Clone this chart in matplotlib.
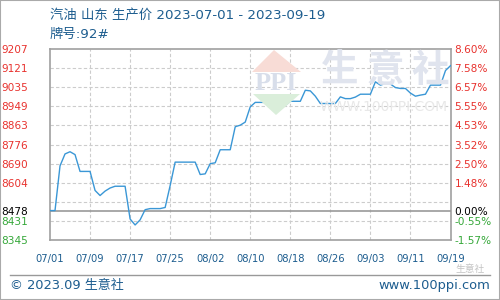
import matplotlib
matplotlib.use("Agg")
import matplotlib.pyplot as plt
from matplotlib.patches import Polygon, Rectangle
from matplotlib.lines import Line2D

plt.rcParams['font.family'] = ['DejaVu Sans', 'Noto Sans CJK SC']

# ---- data (daily, 07/01 -> 09/19)
DAYS = list(range(81))
PRICES = [8478, 8478, 8680, 8734, 8744, 8731, 8655, 8655, 8655, 8569,
          8546, 8566, 8580, 8588, 8588, 8588, 8440, 8413, 8436, 8482,
          8487, 8487, 8487, 8492, 8591, 8697, 8697, 8697, 8697, 8697,
          8641, 8644, 8690, 8694, 8753, 8753, 8753, 8857, 8864, 8878,
          8947, 8967, 8967, 8967, 8967, 8979, 8974, 8954, 8972, 8972,
          8972, 9022, 9019, 8995, 8962, 8962, 8962, 8962, 8992, 8984,
          8984, 8991, 9004, 9004, 9004, 9060, 9045, 9052, 9050, 9034,
          9030, 9030, 9009, 8995, 9000, 9004, 9045, 9045, 9045, 9111,
          9133]
BASE = 8478
X_TICKS = [0, 8, 16, 24, 32, 40, 48, 56, 64, 72, 80]
X_LABELS = ["07/01", "07/09", "07/17", "07/25", "08/02", "08/10",
            "08/18", "08/26", "09/03", "09/11", "09/19"]
Y_TICKS = [8345, 8431, 8518, 8604, 8690, 8776, 8863, 8949, 9035, 9121, 9207]
Y_LABELS = ["8345", "8431", "", "8604", "8690", "8776", "8863", "8949",
            "9035", "9121", "9207"]
PCT_LABELS = ["-1.57%", "-0.55%", "", "1.48%", "2.50%", "3.52%", "4.53%",
              "5.55%", "6.57%", "7.58%", "8.60%"]

TITLE = "汽油 山东 生产价 2023-07-01 - 2023-09-19"
SUBTITLE = "牌号:92#"

BLUE = "#1d5d8f"
RED = "#e8322e"
GREEN = "#36a83a"
LINE = "#3a97d6"

W, H = 500, 300
fig = plt.figure(figsize=(5, 3), dpi=100)
ax = fig.add_axes([50 / W, 1 - 240 / H, 400.5 / W, (240 - 49.3) / H])

# watermark (logo + text), pixel coords from top-left
def px(x, y):
    return (x / W, 1 - y / H)

fig.patches.append(Polygon([px(252, 72), px(274, 50), px(301, 72)],
                           closed=True, transform=fig.transFigure,
                           facecolor="#f8dcd6", edgecolor="none", zorder=0))
fig.patches.append(Polygon([px(253, 94), px(300, 94), px(276, 115)],
                           closed=True, transform=fig.transFigure,
                           facecolor="#daeeda", edgecolor="none", zorder=0))
fig.text(276 / W, 1 - 84 / H, "PPI", fontsize=19, fontweight="bold",
         color="#d8deea", ha="center", va="center", family="Liberation Serif")
for cx, ch in zip([340, 385, 430], "生意社"):
    fig.text(cx / W, 1 - 70 / H, ch, fontsize=27, fontweight="bold",
             color="#e0e4ee", ha="center", va="center",
             family=["Noto Sans CJK SC"])
fig.text(384 / W, 1 - 107 / H, "WWW.100PPI.COM", fontsize=10,
         color="#e8e8e8", ha="center", va="center")

ax.set_facecolor("none")
ax.plot(DAYS, PRICES, color=LINE, lw=1.0, zorder=4)
ax.axhline(BASE, color="#999999", lw=1.2, zorder=3)

for v in Y_TICKS[1:-1]:
    ax.axhline(v, color="#cccccc", lw=0.8, ls=(0, (3, 2)), zorder=1)
for d in X_TICKS[1:-1]:
    ax.axvline(d, color="#cccccc", lw=0.8, ls=(0, (3, 2)), zorder=1)

ax.set_xlim(0, 80)
ax.set_ylim(Y_TICKS[0], Y_TICKS[-1])
for s in ax.spines.values():
    s.set_color("#a0a0a0")
    s.set_linewidth(1.2)

ax.set_xticks(X_TICKS)
ax.set_xticklabels(X_LABELS, fontsize=7.2, color=BLUE)
ax.tick_params(axis="x", length=0, pad=10)

ax.set_yticks(Y_TICKS + [BASE])
ax.set_yticklabels(Y_LABELS + [str(BASE)], fontsize=7.6)
ax.tick_params(axis="y", length=0, pad=16)

ax2 = ax.twinx()
ax2.set_ylim(ax.get_ylim())
ax2.set_yticks(Y_TICKS + [BASE])
ax2.set_yticklabels(PCT_LABELS + ["0.00%"], fontsize=7.6)
ax2.tick_params(axis="y", length=0, pad=3)
for s in ax2.spines.values():
    s.set_visible(False)

for lab, v in zip(ax.get_yticklabels(), Y_TICKS + [BASE]):
    lab.set_color("black" if v == BASE else (RED if v > BASE else GREEN))
for lab, v in zip(ax2.get_yticklabels(), Y_TICKS + [BASE]):
    lab.set_color("black" if v == BASE else (RED if v > BASE else GREEN))

# titles
fig.text(50 / W, 1 - 15 / H, TITLE, fontsize=9.6, color=BLUE, va="center")
fig.text(50 / W, 1 - 34 / H, SUBTITLE, fontsize=9.6, color=BLUE, va="center")

# footer
fig.add_artist(Line2D([10 / W, 490 / W], [1 - 275 / H, 1 - 275 / H],
                      transform=fig.transFigure, color="#999999", lw=1))
fig.text(10 / W, 1 - 286 / H, "© 2023.09 生意社", fontsize=9.4, color=BLUE,
         va="center")
fig.text(490 / W, 1 - 286 / H, "www.100ppi.com", fontsize=9.4, color=BLUE,
         va="center", ha="right")
fig.text(470 / W, 1 - 269 / H, "生意社", fontsize=7, color="#c4c4c4",
         va="center", ha="center", family=["Noto Sans CJK SC"])

fig.patches.append(Rectangle((0, 0), 1, 1, transform=fig.transFigure,
                             fill=False, edgecolor="#aaaaaa", lw=1.5))

fig.savefig("out.png", dpi=100)
